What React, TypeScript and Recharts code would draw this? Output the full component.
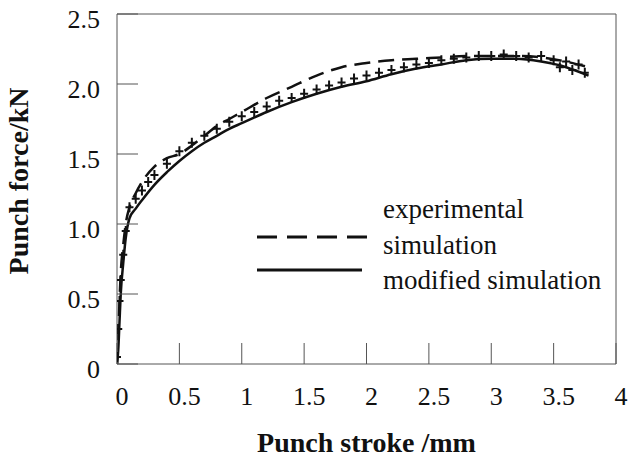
import { ComposedChart, Line, Scatter, XAxis, YAxis, Legend } from 'recharts'

const SERIF = "'Liberation Serif', 'DejaVu Serif', serif"
const INK = '#111'
const FRAME = '#555'
const textStyle = { fontFamily: SERIF }

// punch stroke (mm) grid shared by both simulation curves
const simStroke = [
  0, 0.01, 0.02, 0.03, 0.05, 0.07, 0.1, 0.15, 0.2, 0.3, 0.4, 0.5, 0.6, 0.7, 0.8, 0.9, 1.0,
  1.2, 1.4, 1.6, 1.8, 2.0, 2.2, 2.4, 2.6, 2.8, 3.0, 3.2, 3.4, 3.6, 3.78,
]
// punch force (kN), simulation (dashed)
const simForce = [
  0, 0.2, 0.45, 0.65, 0.85, 1.0, 1.12, 1.22, 1.3, 1.41, 1.47, 1.5, 1.56, 1.63, 1.7, 1.75, 1.8,
  1.9, 1.98, 2.06, 2.12, 2.15, 2.17, 2.18, 2.19, 2.2, 2.2, 2.2, 2.19, 2.16, 2.12,
]
// punch force (kN), modified simulation (solid)
const modForce = [
  0, 0.1, 0.3, 0.5, 0.72, 0.9, 1.04, 1.11, 1.17, 1.28, 1.37, 1.45, 1.52, 1.58, 1.63, 1.68, 1.72,
  1.8, 1.87, 1.93, 1.98, 2.02, 2.07, 2.11, 2.14, 2.17, 2.18, 2.18, 2.16, 2.12, 2.06,
]
// experimental points
const expStroke = [
  0, 0.01, 0.02, 0.03, 0.05, 0.07, 0.1, 0.15, 0.2, 0.25, 0.3, 0.4, 0.5, 0.6, 0.7, 0.8, 0.9,
  1.0, 1.1, 1.2, 1.3, 1.4, 1.5, 1.6, 1.7, 1.8, 1.9, 2.0, 2.1, 2.2, 2.3, 2.4, 2.5, 2.6, 2.7,
  2.8, 2.9, 3.0, 3.1, 3.2, 3.3, 3.4, 3.5, 3.55, 3.6, 3.65, 3.7, 3.75,
]
const expForce = [
  0.05, 0.25, 0.45, 0.6, 0.78, 0.95, 1.12, 1.18, 1.24, 1.3, 1.35, 1.43, 1.52, 1.58, 1.63, 1.68, 1.73,
  1.77, 1.8, 1.84, 1.88, 1.9, 1.93, 1.96, 1.99, 2.01, 2.04, 2.06, 2.08, 2.1, 2.12, 2.14, 2.15, 2.17, 2.18,
  2.19, 2.2, 2.2, 2.21, 2.2, 2.19, 2.2, 2.17, 2.12, 2.16, 2.1, 2.14, 2.08,
]

const xTicks = [0, 0.5, 1, 1.5, 2, 2.5, 3, 3.5, 4]
const xTickLabels = ['0', '0.5', '1', '1.5', '2', '2.5', '3', '3.5', '4']
const yTicks = [0, 0.5, 1, 1.5, 2, 2.5]
const yTickLabels = ['0', '0.5', '1.0', '1.5', '2.0', '2.5']

const seriesNames = ['experimental', 'simulation', 'modified simulation']

const simData = simStroke.map((x, i) => ({ stroke: x, force: simForce[i] }))
const modData = simStroke.map((x, i) => ({ stroke: x, force: modForce[i] }))
const expData = expStroke.map((x, i) => ({ stroke: x, force: expForce[i] }))

const XTick = ({ x, y, payload }: any) => (
  <text x={x + 5} y={y} textAnchor="middle" dominantBaseline="central"
    fontSize={26} fill={INK} style={textStyle}>
    {xTickLabels[xTicks.indexOf(payload.value)]}
  </text>
)

const YTick = ({ x, y, payload }: any) => (
  <text x={x} y={y + 5} textAnchor="end" dominantBaseline="central"
    fontSize={26} fill={INK} style={textStyle}>
    {yTickLabels[yTicks.indexOf(payload.value)]}
  </text>
)

const PlusMark = ({ cx, cy }: any) => (
  <path d={`M${cx - 4},${cy}h8M${cx},${cy - 5}v10`} stroke={INK} strokeWidth={2} fill="none" />
)

const renderLegend = () => (
  <svg width={375} height={110} style={{ display: 'block' }}>
    <text x={128} y={23} fontSize={27} fill={INK} style={textStyle}>{seriesNames[0]}</text>
    <line x1={2} x2={112} y1={42} y2={42} stroke={INK} strokeWidth={3} strokeDasharray="20 10" />
    <text x={128} y={59} fontSize={27} fill={INK} style={textStyle}>{seriesNames[1]}</text>
    <line x1={2} x2={107} y1={75} y2={75} stroke={INK} strokeWidth={3} />
    <text x={128} y={94} fontSize={27} fill={INK} style={textStyle}>{seriesNames[2]}</text>
  </svg>
)

export default function App() {
  return (
    <div style={{ position: 'absolute', left: 0, top: 0, background: '#fff', fontFamily: SERIF }}>
      <ComposedChart width={632} height={457} margin={{ top: 13, right: 15, bottom: 92, left: 116 }}>
        <XAxis
          type="number"
          dataKey="stroke"
          domain={[0, 4]}
          ticks={xTicks}
          height={1}
          tickSize={-21}
          tickMargin={53}
          tick={<XTick />}
          axisLine={{ stroke: FRAME }}
          tickLine={{ stroke: FRAME }}
          allowDataOverflow
          label={{
            content: ({ viewBox }: any) => (
              <text x={viewBox.x + viewBox.width / 2} y={viewBox.y + 88} textAnchor="middle"
                fontSize={28} fontWeight="bold" fill={INK} style={textStyle}>
                Punch stroke /mm
              </text>
            ),
          }}
        />
        <XAxis
          xAxisId="top"
          orientation="top"
          type="number"
          dataKey="stroke"
          domain={[0, 4]}
          ticks={xTicks}
          height={1}
          tickSize={-21}
          tick={false}
          axisLine={{ stroke: FRAME }}
          tickLine={{ stroke: FRAME }}
        />
        <YAxis
          type="number"
          dataKey="force"
          domain={[0, 2.5]}
          ticks={yTicks}
          width={1}
          tickSize={-21}
          tickMargin={38}
          tick={<YTick />}
          axisLine={{ stroke: FRAME }}
          tickLine={{ stroke: FRAME }}
          allowDataOverflow
          label={{
            content: ({ viewBox }: any) => {
              const cx = viewBox.x - 88
              const cy = viewBox.y + viewBox.height / 2 - 8
              return (
                <text x={cx} y={cy} transform={`rotate(-90 ${cx} ${cy})`} textAnchor="middle"
                  fontSize={28} fontWeight="bold" fill={INK} style={textStyle}>
                  Punch force/kN
                </text>
              )
            },
          }}
        />
        <YAxis
          yAxisId="right"
          orientation="right"
          type="number"
          dataKey="force"
          domain={[0, 2.5]}
          ticks={yTicks}
          width={1}
          tickSize={-21}
          tick={false}
          axisLine={{ stroke: FRAME }}
          tickLine={{ stroke: FRAME }}
        />
        <Legend
          content={renderLegend}
          layout="horizontal"
          verticalAlign="middle"
          align="center"
          wrapperStyle={{ position: 'absolute', left: 255, top: 195, width: 375, height: 110 }}
        />
        <Line
          data={simData}
          dataKey="force"
          name={seriesNames[1]}
          type="monotone"
          stroke={INK}
          strokeWidth={2.5}
          strokeDasharray="16 8"
          dot={false}
          isAnimationActive={false}
        />
        <Line
          data={modData}
          dataKey="force"
          name={seriesNames[2]}
          type="monotone"
          stroke={INK}
          strokeWidth={2.5}
          dot={false}
          isAnimationActive={false}
        />
        <Scatter
          data={expData}
          dataKey="force"
          name={seriesNames[0]}
          fill={INK}
          shape={<PlusMark />}
          isAnimationActive={false}
        />
      </ComposedChart>
    </div>
  )
}
